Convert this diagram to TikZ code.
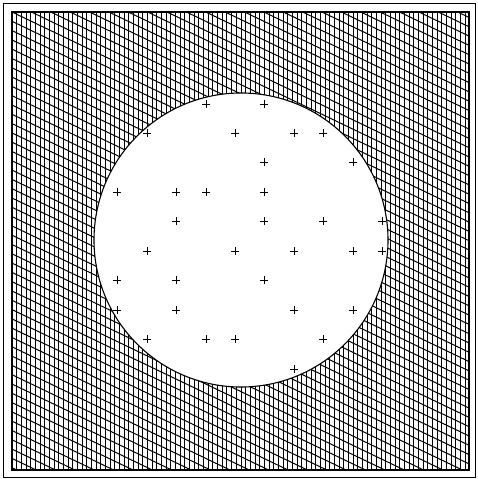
\documentclass[tikz,border=0pt]{standalone}
\begin{document}
\begin{tikzpicture}[x=1pt,y=-1pt,
  vhatch/.style={line width=0.65pt,black},
  dhatch/.style={line width=1pt,black},
  outline/.style={line width=1.1pt,black},
  plusmark/.style={line width=0.6pt,black}]
\useasboundingbox (0,0) rectangle (477,479);
\draw[line width=0.8pt] (3,3) rectangle (475,477);
% hatched region: square minus circle
\begin{scope}[even odd rule]
  \clip (12,12) rectangle (469,470) (241,240) circle[radius=147];
  \foreach \i in {0,...,98} {
    \draw[vhatch] ({12+\i*4.67},12) -- ({12+\i*4.67},470);
  }
  \foreach \j in {-26,...,51} {
    \draw[dhatch] (12,{12+\j*9.3}) -- (469,{12+\j*9.3+0.48*457});
  }
\end{scope}
\draw[outline] (12,12) rectangle (469,470);
\draw[outline] (241,240) circle[radius=147];
% plus marks
\foreach \x/\y in {206/104,264/104,
  147/133,235/133,294/133,323/133,
  264/162,353/162,
  117/192,176/192,206/192,264/192,
  176/221,264/221,323/221,382/221,
  147/251,235/251,294/251,353/251,382/251,
  117/280,176/280,264/280,
  117/310,176/310,294/310,353/310,
  147/339,206/339,235/339,323/339,
  294/369} {
  \draw[plusmark] (\x-4,\y) -- (\x+4,\y) (\x,\y-4) -- (\x,\y+4);
}
\end{tikzpicture}
\end{document}
